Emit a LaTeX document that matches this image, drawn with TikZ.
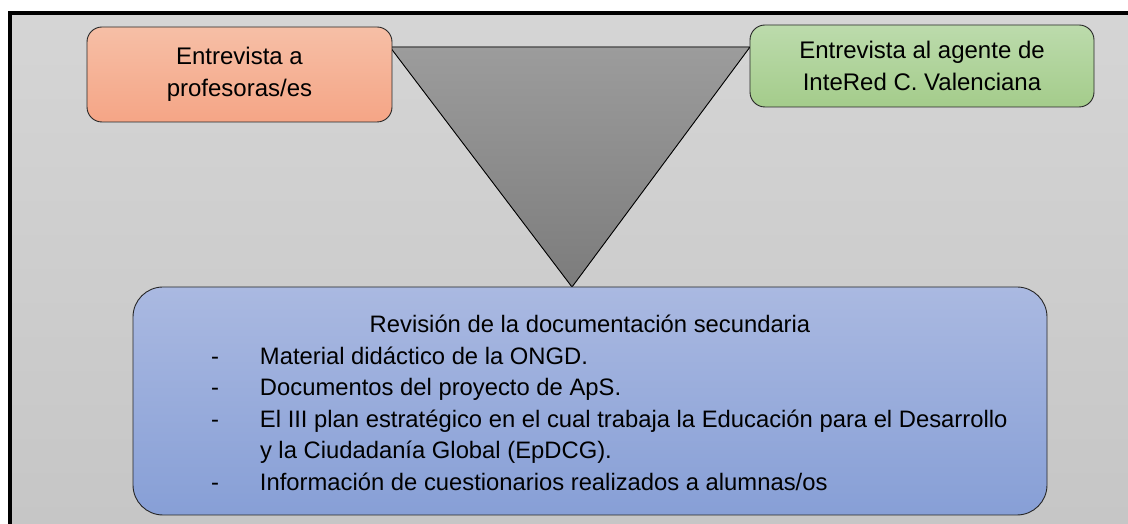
\documentclass[tikz,border=0pt]{standalone}
\usepackage{fontspec}
\setmainfont{Liberation Sans}

\definecolor{fondoA}{RGB}{213,213,213}
\definecolor{fondoB}{RGB}{198,198,198}
\definecolor{naranjaA}{RGB}{246,191,166}
\definecolor{naranjaB}{RGB}{245,165,134}
\definecolor{verdeA}{RGB}{188,219,172}
\definecolor{verdeB}{RGB}{164,204,139}
\definecolor{azulA}{RGB}{170,185,225}
\definecolor{azulB}{RGB}{135,159,214}
\definecolor{embudoA}{RGB}{156,156,156}
\definecolor{embudoB}{RGB}{124,124,124}

\newcommand{\guion}{\noindent\hspace*{42pt}\makebox[49pt][l]{-}}

\begin{document}
\begin{tikzpicture}[x=1pt, y=1pt,
    caja/.style={draw=black!85, line width=0.9pt, rounded corners=15pt,
        inner sep=0pt, align=center, font=\fontsize{24}{32}\selectfont},
    ]
    \useasboundingbox (0,0) rectangle (1128,524);
    % fondo y marco
    \fill[top color=fondoA, bottom color=fondoB] (10,0) rectangle (1128,511);
    \draw[line width=4pt] (10,0) -- (10,511) -- (1128,511);
    % embudo
    \filldraw[top color=embudoA, bottom color=embudoB, draw=black, line width=0.9pt]
        (390,477) -- (750,477) -- (572,237) -- cycle;
    % entrevistas
    \node[caja, top color=naranjaA, bottom color=naranjaB,
        minimum width=305, minimum height=95] (profes) at (239.5,449.5)
        {Entrevista a\\profesoras/es};
    \node[caja, top color=verdeA, bottom color=verdeB,
        minimum width=344, minimum height=82] (agente) at (922,458)
        {Entrevista al agente de\\InteRed C. Valenciana};
    % documentacion secundaria
    \node[caja, rounded corners=30pt, top color=azulA, bottom color=azulB,
        minimum width=914, minimum height=228,
        font=\fontsize{23.8}{31.5}\selectfont] (revision) at (590,123)
        {\begin{minipage}{842pt}
            {\centering Revisión de la documentación secundaria\par}
            \guion Material didáctico de la ONGD.\par
            \guion Documentos del proyecto de ApS.\par
            \guion El III plan estratégico en el cual trabaja la Educación para el Desarrollo\par
            \noindent\hspace*{91pt}y la Ciudadanía Global (EpDCG).\par
            \guion Información de cuestionarios realizados a alumnas/os
            \vspace*{-4pt}
        \end{minipage}};
\end{tikzpicture}
\end{document}
